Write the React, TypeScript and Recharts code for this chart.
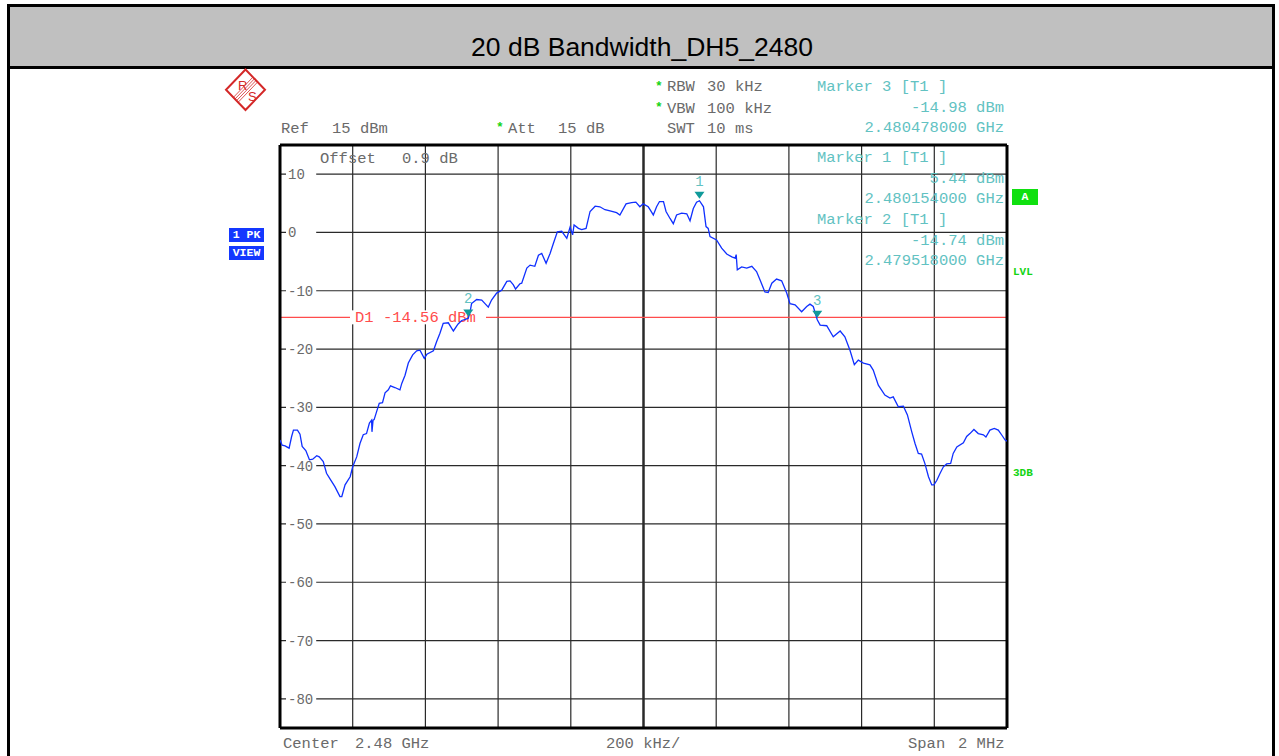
import React from 'react';
import { LineChart, Line, XAxis, YAxis, ReferenceLine, ReferenceDot } from 'recharts';

// Trace: frequency offset from 2.48 GHz (kHz) and level (dBm)
const freqKHz = [
  -1000, -994, -986, -975, -968, -963, -952, -945, -939, -929,
  -919, -910, -899, -892, -881, -872, -862, -849, -835, -830,
  -821, -807, -800, -789, -780, -771, -762, -754, -748, -747,
  -744, -741, -734, -727, -718, -711, -702, -696, -684, -670,
  -665, -656, -647, -635, -624, -615, -603, -596, -578, -569,
  -560, -551, -537, -523, -510, -500, -490, -482, -477, -473,
  -459, -445, -436, -427, -418, -404, -390, -376, -367, -358,
  -352, -340, -335, -321, -312, -299, -289, -280, -268, -257,
  -248, -237, -225, -211, -202, -195, -191, -179, -170, -158,
  -147, -133, -120, -106, -92, -74, -65, -48, -33, -21,
  -10, -1, 13, 18, 27, 36, 44, 55, 62, 73,
  82, 91, 105, 119, 128, 137, 146, 154, 165, 172,
  178, 183, 201, 215, 229, 243, 252, 255, 258, 270,
  284, 298, 311, 321, 334, 343, 353, 366, 380, 394,
  403, 417, 435, 449, 458, 467, 478, 486, 504, 522,
  541, 554, 568, 580, 591, 605, 623, 632, 646, 664,
  678, 687, 701, 715, 726, 738, 747, 756, 765, 774,
  784, 793, 799, 807, 816, 825, 834, 845, 852, 862,
  880, 889, 898, 909, 921, 935, 942, 953, 965, 976,
  985, 995, 1000,
];

const levelDbm = [
  -35.6, -36.5, -36.6, -37.0, -35.0, -33.9, -33.9, -34.6, -36.7, -37.4,
  -39.0, -38.9, -38.3, -38.5, -39.3, -41.3, -42.3, -43.6, -45.3, -45.3,
  -43.3, -41.9, -40.2, -38.5, -36.2, -34.7, -34.5, -32.7, -32.2, -34.2,
  -32.2, -32.1, -30.7, -29.3, -29.2, -27.5, -27.0, -26.3, -26.6, -27.0,
  -25.9, -24.5, -22.4, -21.0, -20.3, -20.2, -21.6, -20.9, -20.3, -18.7,
  -17.3, -15.6, -15.5, -16.9, -15.7, -15.1, -14.9, -14.7, -13.6, -12.2,
  -11.5, -11.6, -12.2, -12.8, -11.6, -10.4, -9.9, -8.4, -8.3, -9.0,
  -9.7, -8.8, -8.7, -6.1, -5.6, -5.8, -3.9, -3.6, -5.3, -3.6,
  -1.9, 0.1, 0.2, -1.0, 0.9, -0.4, 1.3, 0.7, 0.5, 0.7,
  3.6, 4.5, 4.4, 3.9, 3.7, 3.4, 3.0, 4.9, 5.1, 5.2,
  4.4, 4.9, 4.4, 3.9, 3.0, 4.4, 5.3, 5.3, 3.6, 2.4,
  1.5, 3.0, 3.3, 3.2, 2.0, 4.1, 5.2, 5.44, 4.4, 1.0,
  0.7, -0.7, -1.3, -2.7, -3.7, -4.2, -4.4, -3.8, -6.4, -5.9,
  -6.1, -5.8, -6.7, -8.2, -10.2, -10.3, -8.7, -8.0, -8.3, -10.4,
  -12.2, -12.4, -13.6, -12.7, -12.3, -12.7, -14.98, -15.9, -16.0, -17.9,
  -16.9, -17.9, -20.2, -22.7, -21.9, -22.4, -22.7, -23.6, -26.2, -27.9,
  -28.4, -28.2, -29.9, -29.8, -31.3, -34.2, -36.2, -37.9, -38.0, -39.6,
  -41.9, -43.3, -43.3, -42.5, -41.3, -40.2, -39.7, -39.6, -37.9, -36.8,
  -36.1, -35.0, -34.5, -33.8, -34.5, -34.7, -35.1, -33.9, -33.6, -33.9,
  -34.7, -35.6, -35.8,
];

const levelTicks = [10, 0, -10, -20, -30, -40, -50, -60, -70, -80];
const freqGrid = [-800, -600, -400, -200, 0, 200, 400, 600, 800];

const markerNames = ['1', '2', '3'];
const markerFreq = [154, -482, 478];
const markerLevel = [5.44, -14.74, -14.98];
const readoutOrder = [2, 0, 1];

const displayLine = -14.56;

const W = 1279;
const H = 756;
const PL = 280;
const PR = 1007;
const PT = 145;
const PB = 728;

const mono = '"Liberation Mono", "Courier New", monospace';
const GRAY = '#6a6a6a';
const TEAL = '#62c2c2';
const MARK = '#109a9a';
const RED = '#ff4c4c';
const TRACE = '#1030ff';
const GREEN = '#14d414';
const GRID = '#2a2a2a';
const FS = 15.5;

const trace = freqKHz.map((f, i) => ({ f, level: levelDbm[i] }));

function Txt({ x, y, children, color = GRAY, size = FS, anchor = 'start', weight = 400, family = mono }: any) {
  const style: React.CSSProperties = {
    position: 'absolute',
    top: y - size / 2 + 1,
    lineHeight: `${size}px`,
    fontSize: size,
    fontFamily: family,
    color,
    whiteSpace: 'pre',
    fontWeight: weight,
  };
  if (anchor === 'end') style.right = W - x;
  else if (anchor === 'middle') {
    style.left = x - 300;
    style.width = 600;
    style.textAlign = 'center';
  } else style.left = x;
  return <div style={style}>{children}</div>;
}

const TickLabel = ({ viewBox, text }: any) => {
  const { x, y } = viewBox;
  const w = Math.max(text.length, 3) * 8.4 + 5;
  return (
    <g>
      <rect x={x + 6} y={y - 7} width={w} height={14} fill="#fff" />
      <text x={x + 8} y={y + 1} dominantBaseline="central" fill={GRAY} fontFamily={mono} fontSize={14}>
        {text}
      </text>
    </g>
  );
};

const D1Label = ({ viewBox }: any) => {
  const { x, y } = viewBox;
  return (
    <g>
      <rect x={x + 70} y={y - 7} width={136} height={14} fill="#fff" />
      <text x={x + 75} y={y + 1} dominantBaseline="central" fill={RED} fontFamily={mono} fontSize={FS} style={{ whiteSpace: 'pre' }}>
        {`D1 ${displayLine.toFixed(2)} dBm`}
      </text>
    </g>
  );
};

const MarkerShape = ({ cx, cy, name }: any) => (
  <g>
    <polygon points={`${cx - 5},${cy - 9} ${cx + 5},${cy - 9} ${cx},${cy - 2}`} fill={MARK} />
    <text x={cx} y={cy - 19} textAnchor="middle" dominantBaseline="central" fill={TEAL} fontFamily={mono} fontSize={14}>
      {name}
    </text>
  </g>
);

const Logo = () => (
  <svg style={{ position: 'absolute', left: 222, top: 66 }} width={48} height={48}>
    <polygon points="23.5,3.5 43,23.7 23.5,44 4,23.7" fill="#fff" stroke="#d42828" strokeWidth={2} />
    {[-2.4, -0.8, 0.8, 2.4].map((k) => (
      <line key={k} x1={33.25 + k} y1={13.6 + k} x2={13.75 + k} y2={33.85 + k} stroke="#d42828" strokeWidth={0.8} />
    ))}
    <text x={16} y={24} fill="#d42828" fontFamily="Liberation Sans, Arial, sans-serif" fontSize={13}>R</text>
    <text x={26} y={35} fill="#d42828" fontFamily="Liberation Sans, Arial, sans-serif" fontSize={13}>S</text>
  </svg>
);

const Box = ({ x, y, w, h, bg, children }: any) => (
  <div
    style={{
      position: 'absolute', left: x, top: y, width: w, height: h, background: bg, color: '#fff',
      fontFamily: mono, fontWeight: 700, fontSize: 11.5, lineHeight: `${h}px`, textAlign: 'center', whiteSpace: 'pre',
    }}
  >
    {children}
  </div>
);

export default function App() {
  const readoutTops = [87, 158, 220];
  return (
    <div style={{ position: 'absolute', left: 0, top: 0, width: W, height: H, background: '#fff', overflow: 'hidden' }}>
      {/* outer frame + title bar */}
      <div style={{ position: 'absolute', left: 7, top: 4, width: 1268, height: 800, border: '3px solid #000', boxSizing: 'border-box' }} />
      <div style={{ position: 'absolute', left: 10, top: 7, width: 1262, height: 59, background: '#c0c0c0' }} />
      <div style={{ position: 'absolute', left: 7, top: 66, width: 1268, height: 3, background: '#000' }} />
      <Txt x={642} y={46} anchor="middle" color="#000" size={26.5} family='"Liberation Sans", Arial, sans-serif'>
        20 dB Bandwidth_DH5_2480
      </Txt>

      <Logo />

      <LineChart
        width={W}
        height={H}
        data={trace}
        margin={{ top: PT, right: W - PR, bottom: H - PB, left: PL }}
        style={{ position: 'absolute', left: 0, top: 0 }}
      >
        <XAxis type="number" dataKey="f" domain={[-1000, 1000]} hide allowDataOverflow />
        <YAxis type="number" domain={[-85, 15]} hide allowDataOverflow />
        {freqGrid.map((f) => (
          <ReferenceLine key={'v' + f} x={f} stroke={GRID} strokeWidth={f === 0 ? 2.5 : 1.2} zIndex={100} />
        ))}
        {levelTicks.map((v) => (
          <ReferenceLine
            key={'h' + v}
            y={v}
            stroke={GRID}
            strokeWidth={1.2}
            zIndex={100}
            label={(p: any) => <TickLabel viewBox={p.viewBox} text={String(v)} />}
          />
        ))}
        <ReferenceLine y={displayLine} stroke={RED} strokeWidth={1.3} zIndex={110} label={(p: any) => <D1Label viewBox={p.viewBox} />} />
        <ReferenceLine x={-1000} stroke="#000" strokeWidth={3} zIndex={120} />
        <ReferenceLine x={1000} stroke="#000" strokeWidth={3} zIndex={120} />
        <ReferenceLine y={15} stroke="#000" strokeWidth={3} zIndex={120} />
        <ReferenceLine y={-85} stroke="#000" strokeWidth={3} zIndex={120} />
        <Line
          type="linear"
          dataKey="level"
          stroke={TRACE}
          strokeWidth={1.3}
          dot={false}
          activeDot={false}
          isAnimationActive={false}
        />
        {markerNames.map((n, i) => (
          <ReferenceDot
            key={n}
            x={markerFreq[i]}
            y={markerLevel[i]}
            r={0}
            zIndex={1000}
            shape={(p: any) => <MarkerShape cx={p.cx} cy={p.cy} name={n} />}
          />
        ))}
      </LineChart>

      {/* instrument settings */}
      <Txt x={281} y={129}>Ref</Txt>
      <Txt x={332} y={129}>15 dBm</Txt>
      <Txt x={496} y={126} color={GREEN} size={13} weight={700}>*</Txt>
      <Txt x={508} y={129}>Att</Txt>
      <Txt x={558} y={129}>15 dB</Txt>
      <Txt x={655} y={85} color={GREEN} size={13} weight={700}>*</Txt>
      <Txt x={667} y={87}>RBW</Txt>
      <Txt x={707} y={87}>30 kHz</Txt>
      <Txt x={655} y={106} color={GREEN} size={13} weight={700}>*</Txt>
      <Txt x={667} y={109}>VBW</Txt>
      <Txt x={707} y={109}>100 kHz</Txt>
      <Txt x={667} y={129}>SWT</Txt>
      <Txt x={707} y={129}>10 ms</Txt>
      <Txt x={320} y={159}>Offset</Txt>
      <Txt x={402} y={159}>0.9 dB</Txt>

      {/* marker readouts */}
      {readoutOrder.map((m, k) => (
        <React.Fragment key={m}>
          <Txt x={817} y={readoutTops[k]} color={TEAL}>{`Marker ${markerNames[m]} [T1 ]`}</Txt>
          <Txt x={1004} y={readoutTops[k] + 21} color={TEAL} anchor="end">{`${markerLevel[m].toFixed(2)} dBm`}</Txt>
          <Txt x={1004} y={readoutTops[k] + 41} color={TEAL} anchor="end">{`${(2.48 + markerFreq[m] / 1e6).toFixed(9)} GHz`}</Txt>
        </React.Fragment>
      ))}

      {/* side annotations */}
      <Box x={229} y={228} w={35} h={14} bg="#1438ff">1 PK</Box>
      <Box x={229} y={246} w={35} h={14} bg="#1438ff">VIEW</Box>
      <Box x={1012} y={189} w={26} h={16} bg="#10e010">A</Box>
      <Txt x={1013} y={271} color={GREEN} size={11} weight={700}>LVL</Txt>
      <Txt x={1013} y={472} color={GREEN} size={11} weight={700}>3DB</Txt>

      {/* bottom axis info */}
      <Txt x={283} y={744}>Center</Txt>
      <Txt x={355} y={744}>2.48 GHz</Txt>
      <Txt x={606} y={744}>200 kHz/</Txt>
      <Txt x={908} y={744}>Span</Txt>
      <Txt x={958} y={744}>2 MHz</Txt>
    </div>
  );
}
